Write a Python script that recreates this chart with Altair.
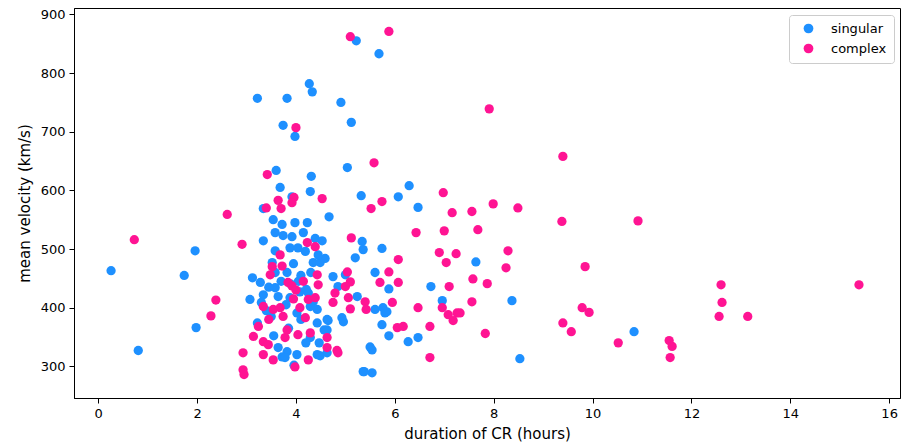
import altair as alt
import pandas as pd

singular_x = [0.26, 0.81, 1.74, 1.96, 1.98, 3.22, 3.82, 4.27, 4.33, 4.91, 3.74, 3.98, 5.12, 5.22, 5.68,
              3.60, 4.31, 3.68, 4.29, 3.34, 3.92, 3.54, 3.98, 4.23, 3.72, 3.58, 3.74, 3.92, 4.15, 3.34,
              3.88, 4.04, 4.19, 4.39, 4.53, 3.58, 4.67, 4.59, 3.52, 4.35, 5.04, 5.32, 6.07, 6.29, 6.47,
              5.34, 5.36, 5.20, 5.74, 7.64, 6.73, 6.96, 8.37, 5.88, 5.80, 5.74, 5.88, 6.27, 6.47, 8.53,
              10.84, 4.49, 3.58, 3.82, 3.12, 3.28, 3.07, 3.34, 3.58, 3.64, 3.88, 4.08, 4.21, 4.02, 4.43,
              4.63, 4.43, 3.22, 3.64, 3.82, 3.72, 4.02, 4.43, 4.63, 3.30, 4.29, 4.75, 5.00, 5.60, 5.24,
              4.93, 4.96, 5.60, 5.50, 5.54, 5.36, 5.54, 3.78, 3.96, 4.65, 4.57, 4.47, 4.49, 4.63, 4.29,
              4.85, 5.76, 5.84, 3.40, 3.50, 3.90, 4.10, 3.70, 4.30, 3.95, 4.45, 3.45, 4.10, 3.85, 4.20,
              3.55, 5.38, 4.05, 4.25, 3.80, 4.35]
singular_y = [463, 327, 455, 497, 366, 757, 757, 782, 768, 750, 711, 692, 716, 855, 833,
              634, 624, 605, 598, 569, 589, 550, 545, 545, 542, 528, 523, 521, 528, 514,
              502, 502, 496, 518, 514, 497, 555, 484, 477, 477, 639, 591, 589, 608, 571,
              513, 499, 485, 501, 478, 436, 412, 412, 432, 391, 371, 352, 342, 349, 313,
              359, 477, 460, 460, 451, 443, 414, 422, 434, 419, 417, 427, 431, 391, 397,
              380, 374, 374, 332, 325, 316, 320, 320, 362, 409, 402, 453, 456, 460, 419,
              383, 376, 397, 333, 328, 291, 289, 315, 302, 378, 362, 340, 318, 323, 349,
              436, 400, 393, 395, 385, 440, 455, 445, 460, 475, 490, 435, 380, 365, 340,
              352, 291, 445, 425, 405, 410]

complex_x = [0.73, 5.10, 5.88, 4.00, 7.91, 3.42, 3.64, 3.96, 3.92, 3.70, 3.40, 4.53, 2.61, 2.91, 4.23,
             4.39, 3.68, 3.52, 3.72, 3.48, 3.84, 3.92, 4.43, 4.45, 4.79, 3.34, 3.54, 3.68, 3.74, 4.08,
             4.25, 4.39, 4.19, 3.82, 3.78, 4.04, 4.29, 3.24, 3.14, 3.34, 3.44, 3.34, 3.54, 2.93, 2.93,
             2.95, 3.98, 4.25, 4.63, 4.63, 4.83, 5.04, 5.10, 5.00, 4.75, 5.06, 5.10, 5.40, 5.42, 5.70,
             5.88, 6.07, 5.95, 6.47, 6.05, 6.17, 6.71, 6.96, 7.08, 4.85, 6.71, 6.07, 5.58, 5.74, 5.52,
             6.98, 6.43, 7.00, 5.12, 6.90, 7.04, 7.16, 7.56, 7.99, 8.49, 7.68, 7.24, 8.29, 8.25, 7.58,
             7.10, 7.87, 7.56, 7.26, 7.18, 7.32, 7.83, 9.40, 9.38, 10.92, 9.85, 9.79, 9.93, 9.40, 9.57,
             10.52, 11.55, 11.61, 11.57, 12.60, 12.62, 12.56, 13.14, 15.39, 2.28, 2.38, 3.45, 3.95, 4.15,
             4.00]
complex_y = [516, 862, 871, 707, 739, 627, 583, 588, 579, 569, 570, 586, 559, 508, 511,
             504, 490, 470, 471, 456, 443, 437, 456, 439, 425, 402, 397, 400, 385, 400,
             414, 417, 383, 362, 349, 354, 357, 368, 351, 342, 337, 320, 311, 323, 294,
             286, 299, 311, 349, 332, 327, 461, 444, 436, 409, 417, 398, 410, 397, 443,
             461, 443, 409, 400, 366, 368, 368, 400, 388, 323, 315, 482, 647, 581, 569,
             596, 528, 531, 519, 494, 477, 562, 564, 577, 570, 533, 492, 497, 468, 449,
             436, 441, 410, 391, 378, 391, 356, 658, 547, 548, 470, 400, 392, 374, 359,
             340, 344, 334, 315, 439, 409, 385, 385, 439, 386, 413, 380, 415, 445,
             430]

df = pd.concat([
    pd.DataFrame({"duration": singular_x, "velocity": singular_y, "type": "singular"}),
    pd.DataFrame({"duration": complex_x, "velocity": complex_y, "type": "complex"}),
], ignore_index=True)
df["order"] = range(len(df))

FONT = "DejaVu Sans"

chart = alt.Chart(df).mark_circle(size=86, opacity=1).encode(
    x=alt.X("duration:Q", title="duration of CR (hours)",
            scale=alt.Scale(domain=[-0.49, 16.22], nice=False, zero=False),
            axis=alt.Axis(values=list(range(0, 17, 2)), grid=False, tickSize=5, tickColor="black",
                          domainColor="black", labelFontSize=13, titleFontSize=15, titlePadding=6,
                          labelPadding=4, labelFont=FONT, titleFont=FONT, titleFontWeight="normal",
                          labelColor="black", titleColor="black")),
    y=alt.Y("velocity:Q", title="mean velocity (km/s)",
            scale=alt.Scale(domain=[246, 911], nice=False, zero=False),
            axis=alt.Axis(values=list(range(300, 901, 100)), grid=False, tickSize=5, tickColor="black",
                          domainColor="black", labelFontSize=13, titleFontSize=15, titlePadding=8,
                          labelPadding=4, labelFont=FONT, titleFont=FONT, titleFontWeight="normal",
                          labelColor="black", titleColor="black")),
    color=alt.Color("type:N", title=None,
                    scale=alt.Scale(domain=["singular", "complex"], range=["#1E90FF", "#FF1493"]),
                    legend=alt.Legend(orient="none", legendX=715, legendY=7, symbolType="circle",
                                      symbolSize=95, labelFontSize=13, labelFont=FONT,
                                      labelColor="black", padding=7, strokeColor="#cccccc",
                                      fillColor="white", cornerRadius=3, rowPadding=6,
                                      symbolOffset=6, labelOffset=16)),
    order=alt.Order("order:Q"),
).properties(
    width=826, height=390,
    autosize=alt.AutoSizeParams(type="none"),
    padding={"left": 74, "top": 8, "right": 2, "bottom": 45},
).configure_view(stroke="black", strokeWidth=1)

chart.save("out.html", embed_options={"renderer": "svg", "actions": False})
